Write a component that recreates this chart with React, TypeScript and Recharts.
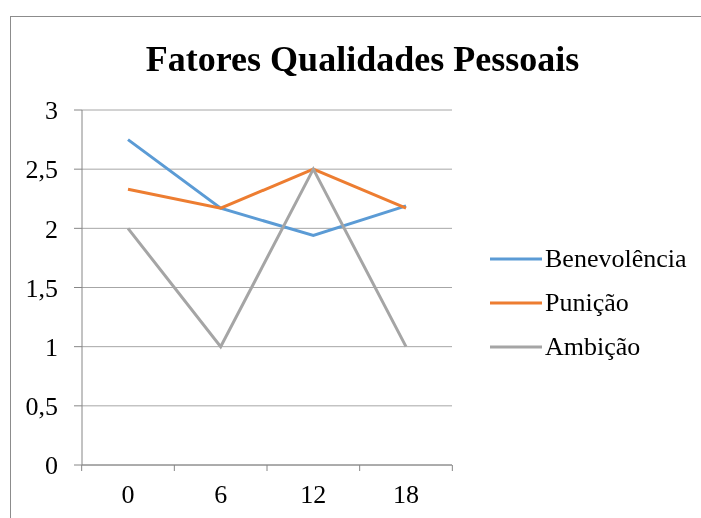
import { LineChart, Line, XAxis, YAxis, CartesianGrid } from "recharts";

// valores
const CATEGORIAS = ["0", "6", "12", "18"];
const BENEVOLENCIA = [2.75, 2.17, 1.94, 2.19];
const PUNICAO = [2.33, 2.17, 2.5, 2.17];
const AMBICAO = [2, 1, 2.5, 1];
const Y_TICKS = [0, 0.5, 1, 1.5, 2, 2.5, 3];

const SERIES = [
  { key: "Benevolência", values: BENEVOLENCIA, color: "#5B9BD5" },
  { key: "Punição", values: PUNICAO, color: "#ED7D31" },
  { key: "Ambição", values: AMBICAO, color: "#A5A5A5" },
];

const data = CATEGORIAS.map((c, i) => {
  const row: Record<string, any> = { cat: c };
  SERIES.forEach((s) => (row[s.key] = s.values[i]));
  return row;
});

const FONT = '"Liberation Serif", "Times New Roman", serif';
const AXIS = "#868686";
const GRID = "#A6A6A6";

// área de plotagem
const W = 685;
const H = 502;
const PLOT_LEFT = 74;
const PLOT_RIGHT = 444;
const PAD = 46;
const HALF = (PLOT_RIGHT - PLOT_LEFT - 2 * PAD) / (CATEGORIAS.length - 1) / 2;

function XTick(props: any) {
  const { x, y, payload, index } = props;
  const last = index === CATEGORIAS.length - 1;
  return (
    <g>
      <line x1={x - HALF} x2={x - HALF} y1={y} y2={y + 6} stroke={AXIS} />
      {last && <line x1={x + HALF} x2={x + HALF} y1={y} y2={y + 6} stroke={AXIS} />}
      <text x={x} y={y + 38} textAnchor="middle" fontSize={26} fontFamily={FONT} fill="#000">
        {payload.value}
      </text>
    </g>
  );
}

function Legenda() {
  return (
    <div
      style={{
        position: "absolute",
        left: 482,
        top: 229,
        fontFamily: FONT,
        fontSize: 26,
        color: "#000",
        whiteSpace: "nowrap",
      }}
    >
      {SERIES.map((s) => (
        <div key={s.key} style={{ height: 44, display: "flex", alignItems: "center" }}>
          <svg width={52} height={4} style={{ display: "block" }}>
            <line x1={0} x2={52} y1={2} y2={2} stroke={s.color} strokeWidth={3} />
          </svg>
          <span style={{ marginLeft: 3, lineHeight: "26px" }}>{s.key}</span>
        </div>
      ))}
    </div>
  );
}

export default function App() {
  return (
    <div style={{ position: "relative", width: W, height: H }}>
      <div
        style={{
          position: "fixed",
          left: 10,
          top: 16,
          width: "calc(100vw - 10px)",
          height: "calc(100vh - 16px)",
          borderLeft: "1px solid #8C8C8C",
          borderTop: "1px solid #8C8C8C",
          boxSizing: "border-box",
        }}
      />
      <div
        style={{
          position: "absolute",
          left: 104.5,
          width: 500,
          top: 32.5,
          textAlign: "center",
          fontFamily: FONT,
          fontWeight: "bold",
          fontSize: 36,
          lineHeight: "36px",
          color: "#000",
          whiteSpace: "nowrap",
        }}
      >
        Fatores Qualidades Pessoais
      </div>
      <LineChart
        width={W}
        height={H}
        data={data}
        margin={{ top: 102, right: W - PLOT_RIGHT, bottom: 0, left: 0 }}
        style={{ position: "absolute", left: 0, top: 0 }}
      >
        <CartesianGrid vertical={false} stroke={GRID} />
        <XAxis
          dataKey="cat"
          height={45}
          padding={{ left: PAD, right: PAD }}
          stroke={AXIS}
          tickLine={false}
          tickSize={0}
          tickMargin={0}
          interval={0}
          tick={<XTick />}
        />
        <YAxis
          width={PLOT_LEFT}
          domain={[0, 3]}
          ticks={Y_TICKS}
          interval={0}
          stroke={AXIS}
          tickSize={8}
          tickMargin={16}
          tick={{ fontSize: 26, fontFamily: FONT, fill: "#000" }}
          tickFormatter={(v: number) => String(v).replace(".", ",")}
        />
        {SERIES.map((s) => (
          <Line
            key={s.key}
            dataKey={s.key}
            stroke={s.color}
            strokeWidth={3}
            dot={false}
            activeDot={false}
            type="linear"
            isAnimationActive={false}
          />
        ))}
      </LineChart>
      <Legenda />
    </div>
  );
}
